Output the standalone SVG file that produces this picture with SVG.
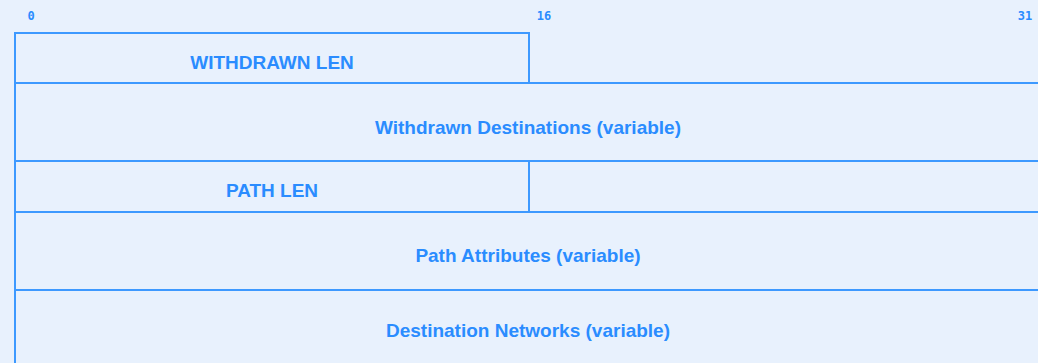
<svg xmlns="http://www.w3.org/2000/svg" width="1038" height="363" viewBox="0 0 1038 363">
<style>
.bg{fill:#e8f1fd}
.box{fill:none;stroke:#3d99ff;stroke-width:2}
.lbl{font-family:"Liberation Sans",Arial,sans-serif;font-weight:bold;font-size:19px;fill:#2a8cff;text-anchor:middle;dominant-baseline:central}
.bit{font-family:"DejaVu Sans Mono",monospace;font-weight:bold;font-size:12px;fill:#2a8cff;text-anchor:middle;dominant-baseline:central}
</style>
<rect class="bg" x="0" y="0" width="1038" height="363"/>
<g id="scale">
<text class="bit" x="31" y="16">0</text>
<text class="bit" x="544" y="16">16</text>
<text class="bit" x="1025" y="16">31</text>
</g>
<g id="withdrawn-len">
<rect class="box" x="15" y="33" width="514" height="50"/>
<text class="lbl" x="272" y="62">WITHDRAWN LEN</text>
</g>
<g id="withdrawn-dest">
<rect class="box" x="15" y="83" width="1030" height="78"/>
<text class="lbl" x="528" y="127">Withdrawn Destinations (variable)</text>
</g>
<g id="path-len">
<rect class="box" x="15" y="161" width="514" height="51"/>
<text class="lbl" x="272" y="190">PATH LEN</text>
</g>
<g id="path-attr">
<rect class="box" x="15" y="212" width="1030" height="78"/>
<text class="lbl" x="528" y="255">Path Attributes (variable)</text>
</g>
<g id="dest-net">
<rect class="box" x="15" y="290" width="1030" height="80"/>
<text class="lbl" x="528" y="330">Destination Networks (variable)</text>
</g>
<g id="connectors"></g>
</svg>
